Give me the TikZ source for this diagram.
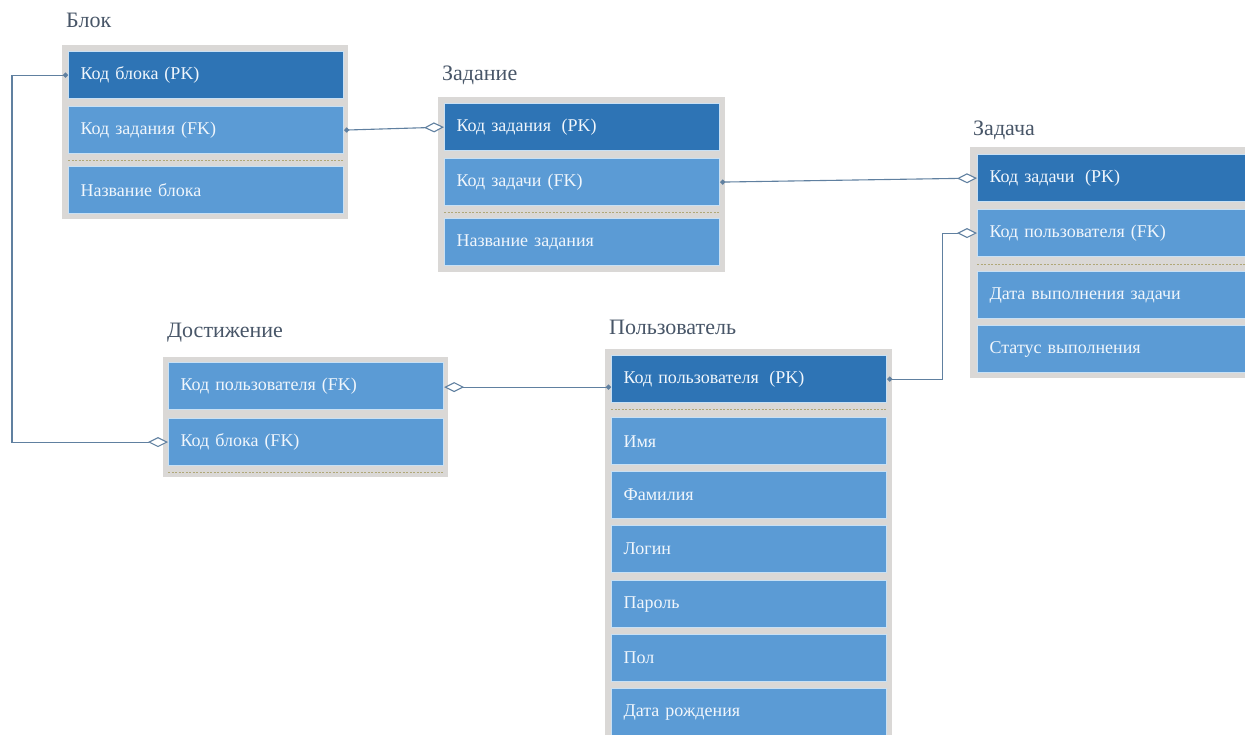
\documentclass[tikz,border=0pt]{standalone}
\usepackage{fontspec}
\setmainfont{Liberation Serif}
\usetikzlibrary{arrows.meta}

\definecolor{pkblue}{RGB}{46,116,181}
\definecolor{fieldblue}{RGB}{91,155,213}
\definecolor{rowedge}{RGB}{200,224,244}
\definecolor{rowtext}{RGB}{240,246,252}
\definecolor{framegray}{RGB}{218,216,214}
\definecolor{titlecol}{RGB}{72,86,104}
\definecolor{linkcol}{RGB}{96,128,160}
\definecolor{sepcol}{RGB}{176,168,120}

\newcommand{\wsp}{\hspace{0.25em}}

\tikzset{
  field/.style={rectangle, anchor=north west, fill=fieldblue, draw=rowedge,
    line width=1.2pt, text width=251pt, inner xsep=12pt, inner ysep=0pt,
    minimum height=47pt, align=left, text=rowtext, font=\fontsize{18}{21}\selectfont},
  pkfield/.style={field, fill=pkblue},
  tabletitle/.style={anchor=west, inner sep=0pt, text=titlecol,
    font=\fontsize{22}{26}\selectfont},
  tableframe/.style={fill=framegray},
  separator/.style={draw=sepcol, line width=1pt, dash pattern=on 2pt off 1.5pt},
  link/.style={draw=linkcol, line width=1.1pt}
}

\begin{document}
\begin{tikzpicture}[x=1pt, y=-1pt]
\useasboundingbox[fill=white] (0,0) rectangle (1245,734);

% ---------- Блок ----------
\node[tabletitle] (blokT) at (66,20) {Блок};
\path[tableframe] (62,45) rectangle (348,219);
\node[pkfield] (b1) at (68,51)  {Код блока (PK)};
\node[field]   (b2) at (68,106) {Код задания (FK)};
\draw[separator] (68,160) -- (343,160);
\node[field]   (b3) at (68,166) {Название блока};

% ---------- Задание ----------
\node[tabletitle] (zadT) at (442,75) {Задание};
\path[tableframe] (438,97) rectangle (725,272);
\node[pkfield] (z1) at (444,103) {Код задания\wsp{} (PK)};
\node[field]   (z2) at (444,158) {Код задачи (FK)};
\draw[separator] (444,212) -- (719,212);
\node[field]   (z3) at (444,218) {Название задания};

% ---------- Задача ----------
\node[tabletitle] (tskT) at (973,130) {Задача};
\path[tableframe] (970,147) rectangle (1260,378);
\node[pkfield] (t1) at (977,154) {Код задачи\wsp{} (PK)};
\node[field]   (t2) at (977,209) {Код пользователя (FK)};
\draw[separator] (977,264) -- (1252,264);
\node[field]   (t3) at (977,271) {Дата выполнения задачи};
\node[field]   (t4) at (977,325) {Статус выполнения};

% ---------- Достижение ----------
\node[tabletitle] (achT) at (167,333) {Достижение};
\path[tableframe] (163,357) rectangle (448,477);
\node[field] (d1) at (168,362) {Код пользователя (FK)};
\node[field] (d2) at (168,418) {Код блока (FK)};
\draw[separator] (168,472) -- (443,472);

% ---------- Пользователь ----------
\node[tabletitle] (usrT) at (609,327) {Пользователь};
\path[tableframe] (605,349) rectangle (892,760);
\node[pkfield] (u1) at (611,355) {Код пользователя\wsp{} (PK)};
\draw[separator] (611,409) -- (886,409);
\node[field] (u2) at (611,417) {Имя};
\node[field] (u3) at (611,471) {Фамилия};
\node[field] (u4) at (611,525) {Логин};
\node[field] (u5) at (611,580) {Пароль};
\node[field] (u6) at (611,634) {Пол};
\node[field] (u7) at (611,688) {Дата рождения};

% ---------- Связи ----------
\draw[link, {Circle[length=5pt]}-{Diamond[length=20pt, width=10pt, fill=white]}]
  (b2.east) -- (z1.west);
\draw[link, {Circle[length=5pt]}-{Diamond[length=20pt, width=10pt, fill=white]}]
  (z2.east) -- (t1.west);
\draw[link, {Circle[length=5pt]}-{Diamond[length=20pt, width=10pt, fill=white]}]
  (u1.east) -- ++(55,0) |- (t2.west);
\draw[link, {Diamond[length=20pt, width=10pt, fill=white]}-{Circle[length=5pt]}]
  ([yshift=-1pt]d1.east) -- ([yshift=-1pt]d1.east -| u1.west);
\draw[link, {Circle[length=5pt]}-{Diamond[length=20pt, width=10pt, fill=white]}]
  (b1.west) -- ++(-56,0) |- (d2.west);

\end{tikzpicture}
\end{document}
